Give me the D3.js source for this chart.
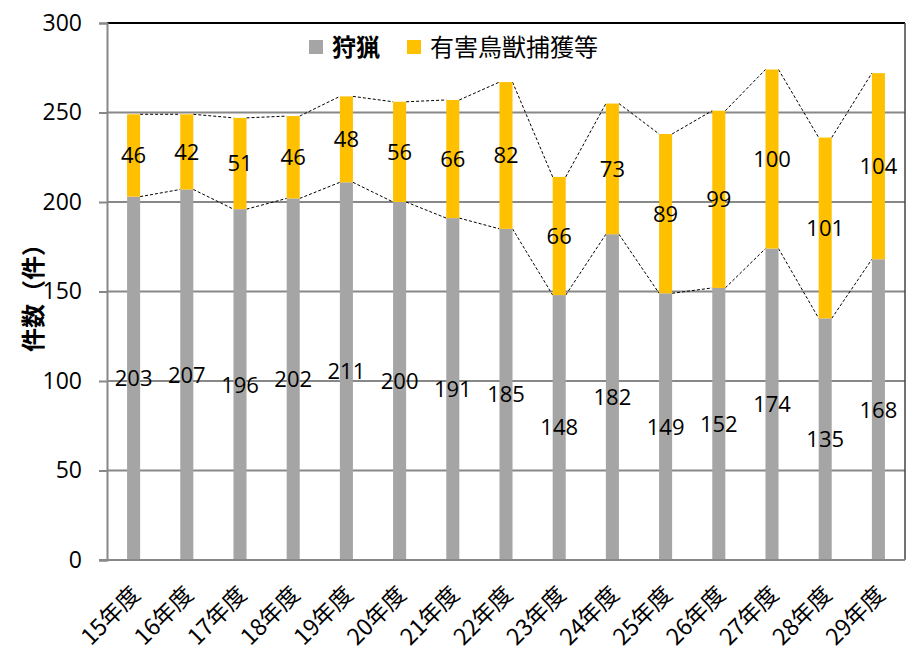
<!DOCTYPE html>
<html>
<head>
<meta charset="utf-8">
<script src="https://cdn.jsdelivr.net/npm/d3@7"></script>
<style>
  body { margin: 0; background: #fff; }
  svg text { font-family: "Noto Sans CJK JP", "Noto Sans", sans-serif; fill: #000; }
</style>
</head>
<body>
<svg id="chart" width="906" height="654"></svg>
<script>
const years = ['15年度', '16年度', '17年度', '18年度', '19年度', '20年度', '21年度', '22年度',
  '23年度', '24年度', '25年度', '26年度', '27年度', '28年度', '29年度'];
const hunting = [203, 207, 196, 202, 211, 200, 191, 185, 148, 182, 149, 152, 174, 135, 168];
const pestControl = [46, 42, 51, 46, 48, 56, 66, 82, 66, 73, 89, 99, 100, 101, 104];
const seriesNames = ['狩猟', '有害鳥獣捕獲等'];
const yTicks = [0, 50, 100, 150, 200, 250, 300];
const colors = ['#A5A5A5', '#FFC000'];

const margin = {top: 23, right: 1, bottom: 94, left: 107};
const width = 906 - margin.left - margin.right;
const height = 654 - margin.top - margin.bottom;

const svg = d3.select('#chart');
const g = svg.append('g').attr('transform', `translate(${margin.left},${margin.top})`);

const x = d3.scaleBand().domain(years).range([0, width]).paddingInner(0.755).paddingOuter(0.3775);
const y = d3.scaleLinear().domain([0, 300]).range([height, 0]);

// gridlines
g.append('g').selectAll('line')
  .data(yTicks.filter(t => t > 0 && t < 300))
  .join('line')
  .attr('x1', 0).attr('x2', width)
  .attr('y1', d => y(d)).attr('y2', d => y(d))
  .attr('stroke', '#888').attr('stroke-width', 2);

// stack data
const rows = years.map((yr, i) => ({year: yr, hunting: hunting[i], pest: pestControl[i]}));
const stacked = d3.stack().keys(['hunting', 'pest'])(rows);

// series lines (dashed connectors)
stacked.forEach(layer => {
  const segs = d3.pairs(layer);
  g.append('g').selectAll('line')
    .data(segs)
    .join('line')
    .attr('x1', d => x(d[0].data.year) + x.bandwidth())
    .attr('y1', d => y(d[0][1]))
    .attr('x2', d => x(d[1].data.year))
    .attr('y2', d => y(d[1][1]))
    .attr('stroke', '#000').attr('stroke-width', 1)
    .attr('stroke-dasharray', '3,2');
});

// bars
stacked.forEach((layer, li) => {
  g.append('g').selectAll('rect')
    .data(layer)
    .join('rect')
    .attr('x', d => x(d.data.year))
    .attr('width', x.bandwidth())
    .attr('y', d => y(d[1]))
    .attr('height', d => y(d[0]) - y(d[1]))
    .attr('fill', colors[li]);
});

// value labels
stacked.forEach(layer => {
  g.append('g').selectAll('text')
    .data(layer)
    .join('text')
    .attr('x', d => x(d.data.year) + x.bandwidth() / 2)
    .attr('y', d => y((d[0] + d[1]) / 2))
    .attr('dy', '0.36em')
    .attr('text-anchor', 'middle')
    .attr('font-size', 22)
    .style('font-family', '"Open Sans", "Noto Sans", sans-serif')
    .text(d => d[1] - d[0]);
});

// frame: top black line, right border
g.append('line').attr('x1', 0).attr('x2', width).attr('y1', 0).attr('y2', 0)
  .attr('stroke', '#000').attr('stroke-width', 2);
g.append('line').attr('x1', width).attr('x2', width).attr('y1', 0).attr('y2', height)
  .attr('stroke', '#444').attr('stroke-width', 1.5);

// y axis
const yAxis = g.append('g')
  .call(d3.axisLeft(y).tickValues(yTicks).tickSize(8).tickPadding(17));
yAxis.select('.domain').attr('stroke', '#888').attr('stroke-width', 2);
yAxis.selectAll('.tick line').attr('stroke', '#888').attr('stroke-width', 2);
yAxis.selectAll('.tick text').attr('font-size', 23).attr('fill', '#000')
  .style('font-family', '"Open Sans", "Noto Sans", sans-serif');

// x axis
const xAxis = g.append('g').attr('transform', `translate(0,${height})`)
  .call(d3.axisBottom(x).tickSize(0).tickPadding(0));
xAxis.select('.domain').remove();
g.append('line').attr('x1', -8).attr('x2', width).attr('y1', height).attr('y2', height)
  .attr('stroke', '#888').attr('stroke-width', 2);
xAxis.selectAll('.tick text')
  .attr('font-size', 23)
  .attr('text-anchor', 'end')
  .attr('dy', 0)
  .attr('transform', 'translate(8,36) rotate(-45)');

// y axis title
svg.append('text')
  .attr('transform', 'translate(42,292) rotate(-90)')
  .attr('text-anchor', 'middle')
  .attr('font-size', 24)
  .attr('font-weight', 'bold')
  .text('件数（件）');

// legend
const legend = svg.append('g').attr('transform', 'translate(309,47)');
const legendX = [0, 98];
seriesNames.forEach((name, i) => {
  const lg = legend.append('g').attr('transform', `translate(${legendX[i]},0)`);
  lg.append('rect').attr('x', 0).attr('y', -7).attr('width', 14).attr('height', 14).attr('fill', colors[i]);
  lg.append('text').attr('x', 23).attr('y', 0).attr('dy', '0.36em')
    .attr('font-size', 24)
    .attr('font-weight', i === 0 ? 'bold' : 'normal')
    .text(name);
});
</script>
</body>
</html>
